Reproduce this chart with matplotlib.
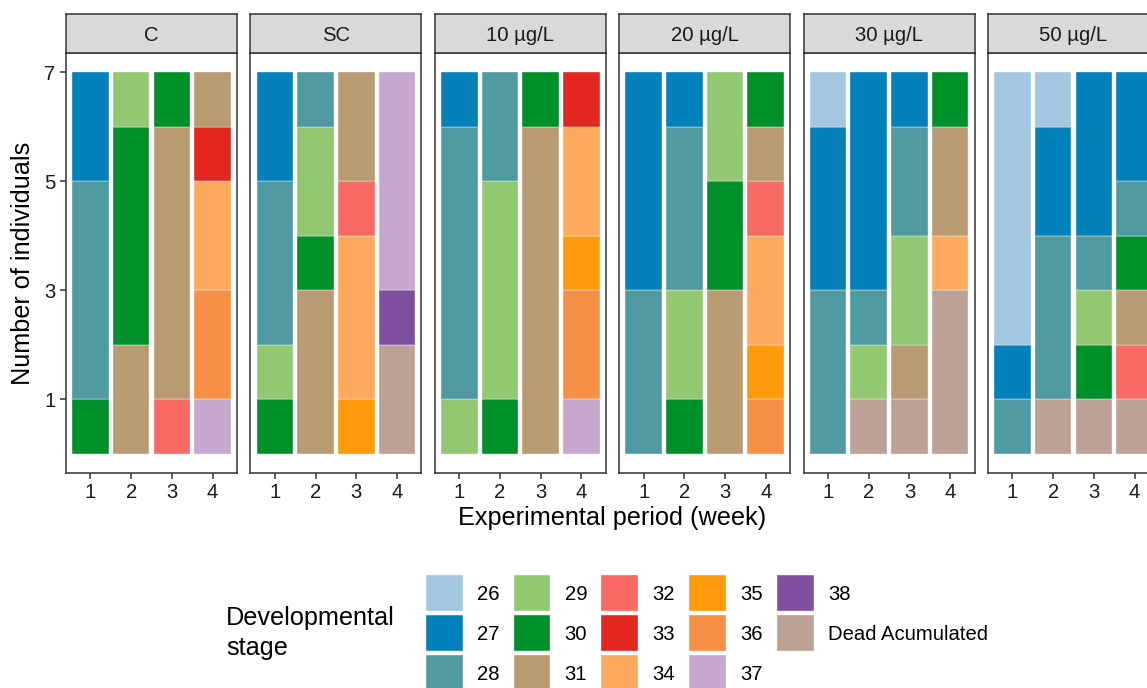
import matplotlib
matplotlib.use("Agg")
import matplotlib.pyplot as plt
from matplotlib.patches import Rectangle

plt.rcParams['font.family'] = ['Liberation Sans', 'DejaVu Sans']

# ---- data -----------------------------------------------------------------
stages = ["26", "27", "28", "29", "30", "31", "32", "33", "34", "35", "36",
          "37", "38", "Dead Acumulated"]
stage_colors = ["#A3C7E1", "#0480BB", "#4E9AA0", "#93C873", "#00902A",
                "#B89A73", "#F96A65", "#E12720", "#FDAA5E", "#FE9A0B",
                "#F88F46", "#C6A8CF", "#7F4FA0", "#BCA196"]
weeks = [1, 2, 3, 4]
treatments = ["C", "SC", "10 µg/L", "20 µg/L", "30 µg/L", "50 µg/L"]

# number of individuals per developmental stage, one dict per week
counts_c = [
    {"27": 2, "28": 4, "30": 1},
    {"29": 1, "30": 4, "31": 2},
    {"30": 1, "31": 5, "32": 1},
    {"31": 1, "33": 1, "34": 2, "36": 2, "37": 1},
]
counts_sc = [
    {"27": 2, "28": 3, "29": 1, "30": 1},
    {"28": 1, "29": 2, "30": 1, "31": 3},
    {"31": 2, "32": 1, "34": 3, "35": 1},
    {"37": 4, "38": 1, "Dead Acumulated": 2},
]
counts_10 = [
    {"27": 1, "28": 5, "29": 1},
    {"28": 2, "29": 4, "30": 1},
    {"30": 1, "31": 6},
    {"33": 1, "34": 2, "35": 1, "36": 2, "37": 1},
]
counts_20 = [
    {"27": 4, "28": 3},
    {"27": 1, "28": 3, "29": 2, "30": 1},
    {"29": 2, "30": 2, "31": 3},
    {"30": 1, "31": 1, "32": 1, "34": 2, "35": 1, "36": 1},
]
counts_30 = [
    {"26": 1, "27": 3, "28": 3},
    {"27": 4, "28": 1, "29": 1, "Dead Acumulated": 1},
    {"27": 1, "28": 2, "29": 2, "31": 1, "Dead Acumulated": 1},
    {"30": 1, "31": 2, "34": 1, "Dead Acumulated": 3},
]
counts_50 = [
    {"26": 5, "27": 1, "28": 1},
    {"26": 1, "27": 2, "28": 3, "Dead Acumulated": 1},
    {"27": 3, "28": 1, "29": 1, "30": 1, "Dead Acumulated": 1},
    {"27": 2, "28": 1, "30": 1, "31": 1, "32": 1, "Dead Acumulated": 1},
]
all_counts = [counts_c, counts_sc, counts_10, counts_20, counts_30, counts_50]
y_ticks = [1, 3, 5, 7]

# ---- layout ---------------------------------------------------------------
W, H = 1147, 688
fig = plt.figure(figsize=(W / 100, H / 100), dpi=100)
fig.patch.set_facecolor("white")


def px_axes(left, top, width, height):
    return fig.add_axes([left / W, 1 - (top + height) / H, width / W, height / H])


DARK = "#333333"
TXT = "#1A1A1A"
small = 14.6
big = 18.2

panel_left0, panel_pitch, panel_w = 66, 184.4, 171
panel_top, panel_h = 53, 420
strip_top, strip_h = 14, 39

for i, (name, counts) in enumerate(zip(treatments, all_counts)):
    left = panel_left0 + i * panel_pitch
    ax = px_axes(left, panel_top, panel_w, panel_h)
    for wk, wk_counts in zip(weeks, counts):
        bottom = 0
        # lowest stage sits on top of the stack, dead individuals at the base
        for stage, col in reversed(list(zip(stages, stage_colors))):
            n = wk_counts.get(stage, 0)
            if n:
                ax.bar(wk, n, bottom=bottom, width=0.9, color=col,
                       edgecolor="#F4F4F4", linewidth=0.3)
                bottom += n
    ax.set_xlim(0.4, 4.6)
    ax.set_ylim(-0.35, 7.35)
    ax.set_xticks(weeks)
    ax.set_xticklabels([str(w) for w in weeks])
    ax.tick_params(axis="x", length=4, width=1.1, color=DARK, pad=3.5,
                   labelsize=small, labelcolor=TXT)
    if i == 0:
        ax.set_yticks(y_ticks)
        ax.set_yticklabels([str(t) for t in y_ticks])
        ax.tick_params(axis="y", length=4, width=1.1, color=DARK, pad=3.5,
                       labelsize=small, labelcolor=TXT)
    else:
        ax.set_yticks([])
    for sp in ax.spines.values():
        sp.set_color(DARK)
        sp.set_linewidth(1.1)
    ax.set_facecolor("white")

    sax = px_axes(left, strip_top, panel_w, strip_h)
    sax.set_facecolor("#D9D9D9")
    sax.set_xticks([])
    sax.set_yticks([])
    for sp in sax.spines.values():
        sp.set_color(DARK)
        sp.set_linewidth(1.1)
    sax.text(0.5, 0.5, name, ha="center", va="center_baseline",
             fontsize=small, color=TXT, transform=sax.transAxes)

# axis titles
fig.text(612 / W, 1 - 525 / H, "Experimental period (week)", ha="center",
         va="baseline", fontsize=big, color="black")
fig.text(23 / W, 1 - 263 / H, "Number of individuals", ha="center",
         va="center", rotation=90, fontsize=big, color="black")

# ---- legend ---------------------------------------------------------------
lax = fig.add_axes([0, 0, 1, 1], facecolor="none")
lax.set_xlim(0, W)
lax.set_ylim(H, 0)
lax.axis("off")

lax.text(226, 633, "Developmental\nstage", ha="left", va="center",
         fontsize=big, color="black", linespacing=1.3)

col_lefts = [426, 513.5, 601, 689, 777]
row_tops = [574.5, 614.5, 654.5]
key = 36.5
rows_per_col = [3, 3, 3, 3, 2]
idx = 0
for c, nrows in enumerate(rows_per_col):
    for r in range(nrows):
        x0, y0 = col_lefts[c], row_tops[r]
        lax.add_patch(Rectangle((x0, y0), key, key, facecolor=stage_colors[idx],
                                edgecolor="#F4F4F4", linewidth=0.3))
        lax.text(x0 + 51, y0 + key / 2, stages[idx], ha="left",
                 va="center_baseline", fontsize=small, color="black")
        idx += 1

fig.savefig("out.png", dpi=100)
